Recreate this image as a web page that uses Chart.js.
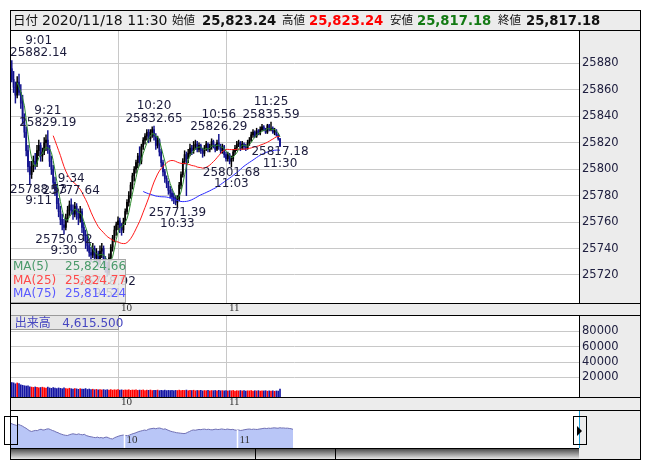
<!DOCTYPE html>
<html>
<head>
<meta charset="utf-8">
<script src="https://cdn.jsdelivr.net/npm/chart.js@4.4.1/dist/chart.umd.min.js"></script>
<style>
  body { margin: 0; width: 653px; height: 470px; overflow: hidden; background: #fff;
         font-family: "DejaVu Sans", "Noto Sans CJK JP", sans-serif; }
  #frame { position: absolute; left: 10px; top: 10px; width: 630px; height: 449px; background: #ececec; }
  #header { position: absolute; left: 10px; top: 10px; width: 630px; height: 20px; }
  #header span { position: absolute; top: 0; line-height: 21px; white-space: nowrap; color: #111; font-size: 11.5px; }
  #header span.val { font-weight: bold; font-size: 13.2px; }
  canvas { position: absolute; }
  .hline { position: absolute; left: 10px; width: 631px; height: 1px; background: #000; }
  #outline { position: absolute; left: 10px; top: 10px; width: 629px; height: 448px; border: 1px solid #000; }
  #maBox { position: absolute; left: 10px; top: 259px; width: 114px; height: 42px;
           background: rgba(232,232,232,0.86); border: 1px solid #a8a8a8; font-size: 12px; }
  #maBox div { position: relative; height: 13.7px; line-height: 13.7px; }
  #maBox .n { position: absolute; left: 2px; }
  #maBox .v { position: absolute; left: 54px; }
  #volBox { position: absolute; left: 10px; top: 315px; width: 107px; height: 13px; line-height: 14px;
            background: #e6e6e6; border: 1px solid #9a9a9a; color: #4646c0; font-size: 12px; white-space: nowrap; }
  #scroll { position: absolute; left: 10px; top: 448px; width: 569px; height: 11px;
            background: linear-gradient(#4e4e4e, #e8e8e8); border-top: 1px solid #000; box-sizing: border-box; }
  #scroll i { position: absolute; top: 0; width: 1px; height: 11px; background: #000; }
  .handle { position: absolute; top: 416px; width: 12px; height: 27px; border: 1px solid #000; }
  .tri { position: absolute; left: 3px; top: 9px; width: 0; height: 0;
         border-top: 5px solid transparent; border-bottom: 5px solid transparent; border-left: 5px solid #000; }
</style>
</head>
<body>
<div id="frame"></div>
<canvas id="price" width="630" height="285" style="left:10px;top:30px"></canvas>
<canvas id="volume" width="630" height="95" style="left:10px;top:315px"></canvas>
<canvas id="nav" width="630" height="38" style="left:10px;top:410px"></canvas>
<div id="header"></div>
<div class="hline" style="top:30px"></div>
<div id="maBox"></div>
<div id="volBox"></div>
<div id="scroll"><i style="left:245px"></i><i style="left:325px"></i></div>
<div class="handle" style="left:4px"></div>
<div class="handle" style="left:573px"><div class="tri"></div></div>
<div id="outline"></div>
<script>
// 1-minute bars, 9:00 .. 11:30 (index = minutes after 9:00)
const opens = [25832,25876,25868,25862,25856,25866,25858,25850,25838,25828,
  25814,25802,25796,25802,25806,25804,25814,25818,25810,25813,
  25820,25822,25815,25806,25800,25790,25784,25774,25768,25762,
  25758,25756,25763,25769,25773,25769,25766,25772,25766,25763,
  25768,25756,25750,25745,25742,25737,25735,25740,25733,25736,
  25730,25738,25740,25732,25725,25722,25733,25741,25748,25754,
  25758,25761,25756,25754,25760,25768,25775,25780,25788,25795,
  25800,25805,25810,25806,25817,25822,25825,25828,25823,25828,
  25830,25825,25818,25822,25813,25805,25798,25793,25789,25784,
  25782,25779,25777,25775,25778,25788,25796,25806,25811,25808,
  25812,25816,25814,25818,25819,25815,25818,25814,25812,25816,
  25819,25815,25817,25821,25818,25815,25820,25817,25814,25817,
  25811,25808,25811,25806,25808,25813,25816,25819,25820,25816,
  25819,25817,25816,25820,25822,25826,25828,25825,25829,25827,
  25830,25832,25830,25828,25833,25830,25831,25828,25829,25826,
  25823.24];
const highs = [25878,25882.14,25874,25866,25870,25872,25864,25856,25842,25832,
  25818,25806,25806,25810,25812,25818,25822,25820,25816,25824,
  25826,25829.19,25818,25810,25803,25794,25788,25778,25772,25766,
  25762,25766,25772,25776,25777.64,25773,25775,25774,25770,25772,
  25770,25760,25754,25750,25746,25741,25744,25742,25740,25738,
  25742,25744,25742,25734,25730,25736,25743,25750,25757,25760,
  25764,25763,25759,25763,25770,25777,25783,25790,25797,25802,
  25807,25812,25817,25819,25824,25827,25830,25830,25830,25832,
  25832.65,25827,25825,25823,25815,25807,25800,25795,25791,25787,
  25785,25782,25780,25780,25790,25798,25808,25814,25813,25815,
  25819,25818,25821,25822,25821,25820,25819,25816,25818,25821,
  25820,25819,25823,25822,25819,25822,25826.29,25819,25819,25818,
  25813,25813,25812,25810,25815,25818,25821,25822,25821,25821,
  25820,25819,25822,25824,25828,25830,25829,25831,25830,25832,
  25834,25833,25831,25834,25834,25835.59,25832,25831,25830,25827,
  25823.24];
const lows = [25830,25866,25858,25850,25854,25856,25846,25834,25824,25810,
  25798,25788.53,25793,25798,25800,25802,25810,25806,25806,25811,
  25814,25812,25802,25796,25786,25780,25770,25764,25758,25754,
  25750.92,25754,25760,25765,25766,25762,25764,25762,25758,25760,
  25752,25746,25740,25738,25734,25730,25733,25730,25730,25726,
  25728,25733,25728,25722,25718.92,25720,25731,25738,25745,25750,
  25754,25752,25750,25752,25758,25766,25772,25778,25785,25791,
  25797,25801,25803,25804,25815,25819,25822,25820,25821,25824,
  25822,25815,25816,25810,25802,25795,25790,25786,25781,25778,
  25776,25774,25773,25771.39,25776,25785,25794,25804,25780,25805,
  25810,25811,25812,25815,25813,25813,25812,25809,25810,25814,
  25813,25813,25815,25816,25813,25814,25815,25812,25812,25809,
  25806,25806,25804,25801.68,25806,25811,25814,25817,25814,25815,
  25815,25814,25815,25818,25821,25824,25824,25824,25826,25826,
  25829,25829,25827,25827,25829,25829,25827,25826,25825,25822,
  25817.18];
const closes = [25876,25868,25862,25856,25866,25858,25850,25838,25828,25814,
  25802,25796,25802,25806,25804,25814,25818,25810,25813,25820,
  25822,25815,25806,25800,25790,25784,25774,25768,25762,25758,
  25756,25763,25769,25773,25769,25766,25772,25766,25763,25768,
  25756,25750,25745,25742,25737,25735,25740,25733,25736,25730,
  25738,25740,25732,25725,25722,25733,25741,25748,25754,25758,
  25761,25756,25754,25760,25768,25775,25780,25788,25795,25800,
  25805,25810,25806,25817,25822,25825,25828,25823,25828,25830,
  25825,25818,25822,25813,25805,25798,25793,25789,25784,25782,
  25779,25777,25775,25778,25788,25796,25806,25811,25808,25812,
  25816,25814,25818,25819,25815,25818,25814,25812,25816,25819,
  25815,25817,25821,25818,25815,25820,25817,25814,25817,25811,
  25808,25811,25806,25808,25813,25816,25819,25820,25816,25819,
  25817,25816,25820,25822,25826,25828,25825,25829,25827,25830,
  25832,25830,25828,25833,25830,25831,25828,25829,25826,25823.24,
  25817.18];
const volumes = [82000,13200,12800,11500,12600,11800,10200,9600,9000,8600,
  8800,7600,7200,6800,7400,6900,6300,6700,7100,6400,
  6000,7200,6100,5600,6600,5900,5300,6100,5600,5100,
  6300,5300,4900,5700,5100,4600,5300,4900,4300,5100,
  4700,4500,5300,4100,4700,3900,4400,3700,4200,3600,
  4100,3500,3900,3300,3800,3400,3900,3200,3700,3400,
  3800,3200,3600,3100,3500,3300,3700,3000,3400,3200,
  3600,2900,3300,3100,3500,2800,3200,3000,3400,2700,
  3100,2900,3300,2600,3000,2800,3200,2600,2900,2700,
  3100,2500,2900,2700,3200,2600,3000,2800,3300,2500,
  2900,2700,3100,2400,2800,2600,3000,2300,2700,2500,
  2900,2300,2700,2500,2800,2200,3000,2400,2600,2300,
  2700,2200,2600,2400,2800,2100,2500,2300,2700,2200,
  2600,2000,2400,2300,2700,2100,2500,2200,2600,2000,
  2400,2200,2500,1900,2300,2100,2400,1800,2200,2000,
  4615.5];

// labelled swing highs / lows (bar index) and their kind
const peakIndex = [1, 11, 21, 30, 34, 54, 80, 93, 116, 123, 145, 150];
const peakKind = ['high','low','high','low','high','low','high','low','high','low','high','low'];

const priceTicks = [25720, 25740, 25760, 25780, 25800, 25820, 25840, 25860, 25880];
const volumeTicks = [20000, 40000, 60000, 80000];
const hourMarks = [60, 120];
const hourLabels = ['10', '11'];

const header = [
  ['日付', ''], ['2020/11/18 11:30', 'date'], ['始値', ''], ['25,823.24', 'val'],
  ['高値', ''], ['25,823.24', 'val hi'], ['安値', ''], ['25,817.18', 'val lo'],
  ['終値', ''], ['25,817.18', 'val']
];
const headerX = [13, 42, 172, 202, 282, 309, 390, 417, 498, 526];
const maNames = ['MA(5)', 'MA(25)', 'MA(75)'];
const maValues = ['25,824.66', '25,824.77', '25,814.24'];
const volumeLast = '4,615.500';

const minutes = closes.map((_, i) => i);
const upColor = '#000000', downColor = '#12128e';
const candleColors = closes.map((c, i) => c >= opens[i] ? upColor : downColor);
const volColors = closes.map((c, i) => c >= opens[i] ? '#ff0000' : '#1616a4');
const gridColor = '#c8c8c8';
const tickFont = { family: 'DejaVu Sans', size: 11.5 };

function timeLabel(i) {
  const t = 540 + i;
  return Math.floor(t / 60) + ':' + String(t % 60).padStart(2, '0');
}
function sma(values, n) {
  return values.map((v, i) => i < n - 1 ? null :
    values.slice(i - n + 1, i + 1).reduce((s, x) => s + x, 0) / n);
}
const pts = arr => minutes.map(m => ({ x: m, y: arr[m] }));

// header line
const hd = document.getElementById('header');
header.forEach(([txt, cls], k) => {
  const s = document.createElement('span');
  s.textContent = txt;
  s.className = cls;
  s.style.left = (headerX[k] - 10) + 'px';
  if (cls === 'date') s.style.fontSize = '14px';
  if (k === 0) s.style.fontSize = '12.5px';
  if (cls.includes('hi')) s.style.color = '#ff0000';
  if (cls.includes('lo')) s.style.color = '#137a13';
  hd.appendChild(s);
});
const maColors = ['#2e8b2e', '#ff1a1a', '#2a2aff'];
const maTextColors = ['#4a9a6a', '#ff4a4a', '#5a5aff'];
document.getElementById('maBox').innerHTML = maNames.map((n, k) =>
  `<div style="color:${maTextColors[k]}"><span class="n">${n}</span><span class="v">${maValues[k]}</span></div>`).join('');
document.getElementById('volBox').innerHTML = '&nbsp;出来高&nbsp;&nbsp;&nbsp;' + volumeLast;

function panel(opts) {
  return {
    id: 'panel',
    beforeDraw(chart) {
      const { ctx, chartArea: a } = chart;
      ctx.save();
      ctx.fillStyle = '#fff';
      ctx.fillRect(a.left, a.top, a.right - a.left, a.bottom - a.top);
      ctx.restore();
    },
    afterDraw(chart) {
      const { ctx, chartArea: a, width } = chart;
      ctx.save();
      ctx.strokeStyle = '#000';
      ctx.lineWidth = 1;
      ctx.beginPath();
      ctx.moveTo(a.right + 0.5, a.top); ctx.lineTo(a.right + 0.5, a.bottom);
      ctx.moveTo(0, a.bottom + 0.5); ctx.lineTo(width, a.bottom + 0.5);
      if (opts.topLine) { ctx.moveTo(0, 0.5); ctx.lineTo(width, 0.5); }
      ctx.stroke();
      ctx.fillStyle = '#333';
      ctx.font = '11px "Liberation Serif"';
      ctx.textBaseline = 'middle';
      hourMarks.forEach((m, k) => {
        ctx.fillText(hourLabels[k], chart.scales.x.getPixelForValue(m) + 3, a.bottom + opts.labelDy);
      });
      ctx.restore();
    }
  };
}

const peaks = {
  id: 'peaks',
  afterDatasetsDraw(chart) {
    const { ctx, chartArea: a, scales: { x, y } } = chart;
    ctx.save();
    ctx.font = '12px "DejaVu Sans"';
    ctx.fillStyle = '#1c1c3c';
    ctx.textAlign = 'center';
    ctx.textBaseline = 'middle';
    peakIndex.forEach((i, k) => {
      const high = peakKind[k] === 'high';
      const v = high ? highs[i] : lows[i];
      const txt = v.toFixed(2);
      const w = ctx.measureText(txt).width;
      const cx = Math.min(Math.max(x.getPixelForValue(i), a.left + w / 2), a.right - w / 2);
      const py = y.getPixelForValue(v);
      if (high) {
        ctx.fillText(timeLabel(i), cx, py - 20);
        ctx.fillText(txt, cx, py - 7.5);
      } else {
        ctx.fillText(txt, cx, py + 5.5);
        ctx.fillText(timeLabel(i), cx, py + 17);
      }
    });
    ctx.restore();
  }
};

const xMin = 0, xMax = 316.1;
function timeAxis() {
  return {
    type: 'linear', min: xMin, max: xMax, offset: false,
    grid: { color: gridColor, offset: false, drawTicks: false },
    border: { display: false },
    ticks: { display: false },
    afterBuildTicks: s => { s.ticks = hourMarks.map(v => ({ value: v })); },
    afterFit: s => { s.height = 0; }
  };
}
function valueAxis(min, max, ticks) {
  return {
    position: 'right', min, max,
    grid: { color: gridColor, drawTicks: false },
    border: { display: false },
    ticks: { padding: 3, color: '#202040', font: tickFont, callback: v => String(v) },
    afterBuildTicks: s => { s.ticks = ticks.map(v => ({ value: v })); },
    afterFit: s => { s.width = 61; s.paddingTop = 0; s.paddingBottom = 0; }
  };
}

const ma5 = sma(closes, 5), ma25 = sma(closes, 25), ma75 = sma(closes, 75);
const line = (label, data, color) => ({
  type: 'line', label, data: pts(data), borderColor: color, borderWidth: 1,
  pointRadius: 0, tension: 0, spanGaps: false, order: 0
});

new Chart(document.getElementById('price'), {
  type: 'bar',
  data: {
    datasets: [
      line('MA(5)', ma5, maColors[0]),
      line('MA(25)', ma25, maColors[1]),
      line('MA(75)', ma75, maColors[2]),
      { label: 'body', data: minutes.map(m => ({ x: m, y: [opens[m], closes[m]] })),
        backgroundColor: candleColors, barThickness: 1.1, grouped: false, minBarLength: 1, order: 1 },
      { label: 'wick', data: minutes.map(m => ({ x: m, y: [lows[m], highs[m]] })),
        backgroundColor: candleColors, barThickness: 0.8, grouped: false, order: 2 }
    ]
  },
  options: {
    responsive: false, animation: false,
    layout: { padding: { bottom: 12 }, autoPadding: false },
    plugins: { legend: { display: false }, tooltip: { enabled: false } },
    scales: { x: timeAxis(), y: valueAxis(25698.8, 25905.3, priceTicks) }
  },
  plugins: [panel({ labelDy: 5.5 }), peaks]
});

new Chart(document.getElementById('volume'), {
  type: 'bar',
  data: {
    datasets: [{ label: '出来高', data: minutes.map(m => ({ x: m, y: volumes[m] })),
      backgroundColor: volColors, barThickness: 1, base: -5767 }]
  },
  options: {
    responsive: false, animation: false,
    layout: { padding: { bottom: 13 }, autoPadding: false },
    plugins: { legend: { display: false }, tooltip: { enabled: false } },
    scales: { x: timeAxis(), y: valueAxis(-5767, 101625, volumeTicks) }
  },
  plugins: [panel({ labelDy: 5.5, topLine: true })]
});

const navPlugin = {
  id: 'navDeco',
  beforeDraw(chart) {
    const { ctx, chartArea: a } = chart;
    ctx.save();
    ctx.fillStyle = '#fff';
    ctx.fillRect(a.left, a.top, a.right - a.left, a.bottom - a.top);
    ctx.restore();
  },
  afterDatasetsDraw(chart) {
    const { ctx, chartArea: a, scales: { x }, width } = chart;
    ctx.save();
    ctx.font = '11px "Liberation Serif"';
    ctx.textBaseline = 'middle';
    hourMarks.forEach((m, k) => {
      const px = Math.round(x.getPixelForValue(m)) + 0.5;
      ctx.strokeStyle = '#fff'; ctx.lineWidth = 1.5;
      ctx.beginPath(); ctx.moveTo(px, a.top + 20); ctx.lineTo(px, a.bottom); ctx.stroke();
      ctx.fillStyle = '#333';
      ctx.fillText(hourLabels[k], px + 2, a.bottom - 8);
    });
    ctx.strokeStyle = '#1aa0d8'; ctx.lineWidth = 1;
    ctx.beginPath();
    ctx.moveTo(a.left + 0.5, a.top); ctx.lineTo(a.left + 0.5, a.bottom);
    ctx.moveTo(a.right + 0.5, a.top); ctx.lineTo(a.right + 0.5, a.bottom);
    ctx.stroke();
    ctx.strokeStyle = '#000';
    ctx.beginPath(); ctx.moveTo(0, 0.5); ctx.lineTo(width, 0.5); ctx.stroke();
    ctx.restore();
  }
};

new Chart(document.getElementById('nav'), {
  type: 'line',
  data: {
    datasets: [{ data: pts(closes), borderColor: '#7070b4', borderWidth: 1,
      backgroundColor: '#b9c6f7', fill: 'start', pointRadius: 0, tension: 0 }]
  },
  options: {
    responsive: false, animation: false,
    layout: { padding: { right: 61 }, autoPadding: false },
    plugins: { legend: { display: false }, tooltip: { enabled: false } },
    scales: {
      x: { type: 'linear', display: false, min: -0.53, max: 302.13 },
      y: { display: false, min: 25632, max: 26009 }
    }
  },
  plugins: [navPlugin]
});
</script>
</body>
</html>
